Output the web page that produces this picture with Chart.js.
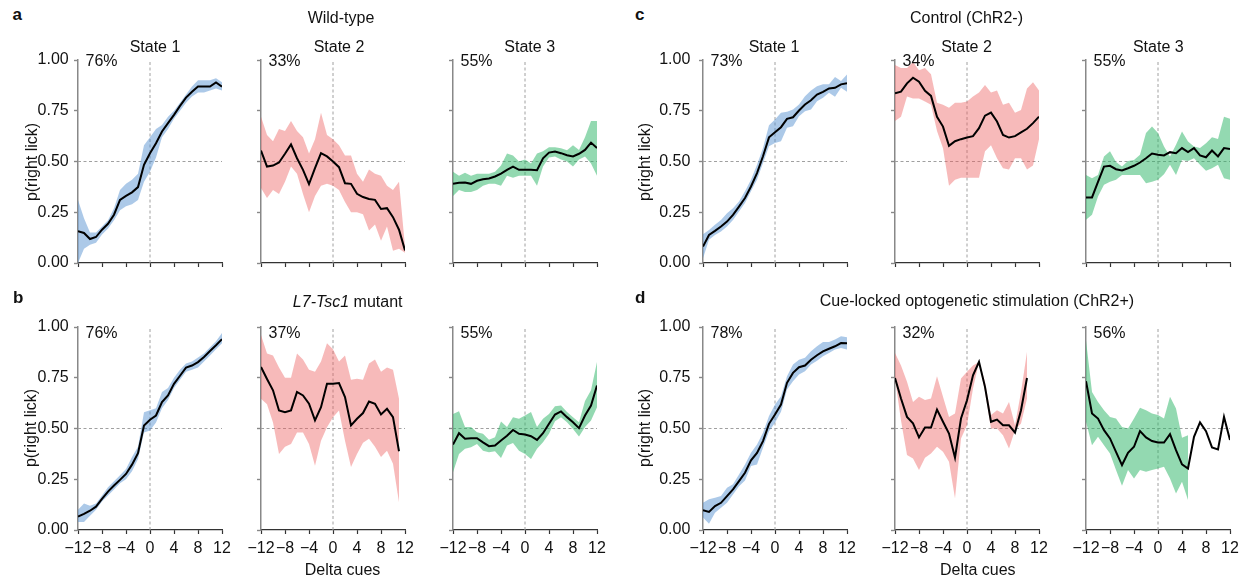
<!DOCTYPE html>
<html><head><meta charset="utf-8">
<script src="https://cdn.jsdelivr.net/npm/chart.js@4.4.0/dist/chart.umd.min.js"></script>
<style>
html,body{margin:0;padding:0;background:#fff;}
#fig{position:relative;width:1247px;height:581px;overflow:hidden;background:#fff;font-family:"Liberation Sans",Arial,Helvetica,sans-serif;color:#111;}
#fig canvas{position:absolute;}
.t{position:absolute;white-space:nowrap;font-size:16px;line-height:16px;}
</style></head><body><div id="fig"></div>
<script>
// ---------- data ----------
const deltaCues = [-12,-11,-10,-9,-8,-7,-6,-5,-4,-3,-2,-1,0,1,2,3,4,5,6,7,8,9,10,11,12];
const yTickValues = [0, 0.25, 0.5, 0.75, 1];
const xTickValues = [-12, -8, -4, 0, 4, 8, 12];

// a: Wild-type
const wtS1Mean  = [0.156,0.148,0.118,0.128,0.164,0.193,0.238,0.311,0.331,0.348,0.374,0.484,0.541,0.59,0.648,0.689,0.73,0.774,0.815,0.844,0.869,0.869,0.869,0.889,0.869];
const wtS1Upper = [0.31,0.22,0.15,0.15,0.18,0.21,0.27,0.36,0.39,0.41,0.44,0.58,0.62,0.66,0.68,0.72,0.75,0.79,0.83,0.87,0.90,0.90,0.90,0.91,0.89];
const wtS1Lower = [0.0,0.07,0.09,0.10,0.14,0.17,0.21,0.26,0.28,0.29,0.31,0.40,0.45,0.52,0.62,0.66,0.71,0.75,0.79,0.82,0.84,0.84,0.85,0.86,0.85];
const wtS2Mean  = [0.554,0.475,0.48,0.495,0.538,0.584,0.516,0.459,0.389,0.467,0.541,0.525,0.5,0.472,0.393,0.39,0.341,0.325,0.315,0.311,0.266,0.27,0.226,0.164,0.062];
const wtS2Upper = [0.72,0.63,0.60,0.66,0.65,0.70,0.65,0.62,0.54,0.61,0.74,0.63,0.61,0.58,0.53,0.53,0.44,0.40,0.46,0.44,0.43,0.38,0.36,0.40,0.08];
const wtS2Lower = [0.37,0.32,0.36,0.34,0.40,0.475,0.44,0.34,0.25,0.33,0.38,0.39,0.38,0.36,0.30,0.25,0.25,0.24,0.16,0.19,0.11,0.18,0.06,0.07,0.05];
const wtS3Mean  = [0.39,0.395,0.397,0.39,0.405,0.413,0.416,0.426,0.44,0.459,0.475,0.459,0.459,0.459,0.457,0.516,0.544,0.549,0.541,0.531,0.525,0.538,0.557,0.593,0.566];
const wtS3Upper = [0.45,0.43,0.445,0.43,0.44,0.44,0.44,0.45,0.48,0.54,0.53,0.50,0.51,0.49,0.54,0.55,0.57,0.57,0.565,0.555,0.58,0.557,0.62,0.70,0.70];
const wtS3Lower = [0.33,0.36,0.35,0.35,0.36,0.38,0.39,0.39,0.38,0.43,0.42,0.43,0.43,0.43,0.38,0.475,0.52,0.525,0.51,0.50,0.475,0.51,0.525,0.49,0.43];

// b: L7-Tsc1 mutant
const mutS1Mean  = [0.066,0.079,0.095,0.115,0.153,0.189,0.219,0.247,0.276,0.322,0.378,0.515,0.543,0.564,0.63,0.663,0.72,0.76,0.80,0.81,0.827,0.852,0.882,0.91,0.94];
const mutS1Upper = [0.10,0.13,0.12,0.13,0.17,0.21,0.24,0.27,0.30,0.36,0.41,0.58,0.59,0.60,0.68,0.70,0.75,0.79,0.82,0.83,0.85,0.87,0.90,0.93,0.97];
const mutS1Lower = [0.04,0.04,0.07,0.10,0.14,0.17,0.20,0.23,0.25,0.29,0.35,0.48,0.49,0.53,0.60,0.64,0.70,0.74,0.78,0.79,0.80,0.83,0.86,0.89,0.92];
const mutS2Mean  = [0.803,0.744,0.688,0.589,0.58,0.589,0.68,0.663,0.622,0.54,0.605,0.72,0.72,0.724,0.655,0.515,0.548,0.576,0.633,0.622,0.569,0.597,0.556,0.388,null];
const mutS2Upper = [0.96,0.87,0.86,0.80,0.75,0.75,0.87,0.84,0.79,0.78,0.83,0.92,0.89,0.83,0.86,0.74,0.745,0.74,0.82,0.84,0.78,0.80,0.79,0.646,null];
const mutS2Lower = [0.646,0.62,0.53,0.375,0.41,0.424,0.48,0.48,0.424,0.317,0.44,0.506,0.556,0.589,0.44,0.31,0.375,0.43,0.45,0.41,0.36,0.39,0.326,0.137,null];
const mutS3Mean  = [0.421,0.477,0.45,0.452,0.452,0.432,0.413,0.416,0.441,0.464,0.493,0.474,0.47,0.462,0.444,0.477,0.523,0.569,0.584,0.556,0.531,0.502,0.564,0.613,0.712];
const mutS3Upper = [0.572,0.585,0.507,0.507,0.482,0.474,0.444,0.457,0.535,0.507,0.556,0.548,0.564,0.581,0.507,0.548,0.572,0.609,0.613,0.581,0.556,0.531,0.635,0.688,0.827];
const mutS3Lower = [0.285,0.375,0.40,0.408,0.424,0.391,0.383,0.388,0.355,0.416,0.428,0.391,0.375,0.35,0.40,0.432,0.474,0.536,0.556,0.531,0.498,0.46,0.507,0.54,0.605];

// c: Control (ChR2-)
const ctlS1Mean  = [0.081,0.138,0.158,0.18,0.204,0.237,0.278,0.32,0.377,0.443,0.526,0.619,0.644,0.669,0.71,0.718,0.751,0.781,0.802,0.83,0.843,0.86,0.863,0.88,0.886];
const ctlS1Upper = [0.142,0.163,0.188,0.212,0.245,0.27,0.303,0.353,0.41,0.484,0.567,0.679,0.707,0.74,0.745,0.756,0.781,0.822,0.85,0.871,0.88,0.88,0.916,0.896,0.929];
const ctlS1Lower = [0.023,0.114,0.138,0.155,0.18,0.212,0.254,0.295,0.353,0.41,0.493,0.575,0.591,0.6,0.666,0.674,0.723,0.748,0.756,0.797,0.814,0.839,0.819,0.863,0.843];
const ctlS2Mean  = [0.836,0.844,0.885,0.913,0.893,0.848,0.823,0.72,0.672,0.577,0.60,0.61,0.618,0.625,0.664,0.726,0.741,0.697,0.631,0.618,0.625,0.643,0.661,0.689,0.721];
const ctlS2Upper = [0.975,0.96,0.96,0.99,0.95,0.96,0.93,0.79,0.78,0.765,0.79,0.79,0.795,0.82,0.84,0.877,0.84,0.85,0.78,0.79,0.74,0.754,0.86,0.89,0.85];
const ctlS2Lower = [0.70,0.72,0.82,0.81,0.81,0.795,0.78,0.65,0.565,0.38,0.41,0.42,0.42,0.42,0.42,0.55,0.58,0.516,0.467,0.46,0.516,0.516,0.46,0.48,0.61];
const ctlS3Mean  = [0.323,0.323,0.40,0.475,0.479,0.462,0.456,0.467,0.479,0.495,0.516,0.539,0.533,0.53,0.546,0.541,0.566,0.546,0.566,0.53,0.521,0.554,0.525,0.566,0.561];
const ctlS3Upper = [0.434,0.418,0.434,0.525,0.55,0.497,0.475,0.503,0.508,0.533,0.64,0.672,0.64,0.574,0.525,0.582,0.648,0.598,0.574,0.566,0.59,0.62,0.611,0.72,0.71];
const ctlS3Lower = [0.213,0.238,0.328,0.385,0.40,0.41,0.434,0.434,0.434,0.434,0.393,0.40,0.41,0.437,0.484,0.434,0.508,0.503,0.516,0.484,0.454,0.467,0.484,0.418,0.41];

// d: Cue-locked optogenetic stimulation (ChR2+)
const optS1Mean  = [0.097,0.089,0.118,0.134,0.167,0.2,0.241,0.282,0.343,0.38,0.438,0.523,0.569,0.618,0.725,0.774,0.802,0.81,0.839,0.861,0.88,0.893,0.905,0.921,0.92];
const optS1Upper = [0.134,0.151,0.159,0.167,0.208,0.225,0.274,0.323,0.38,0.421,0.479,0.561,0.618,0.659,0.757,0.815,0.839,0.848,0.88,0.905,0.926,0.926,0.938,0.954,0.949];
const optS1Lower = [0.061,0.031,0.085,0.11,0.134,0.175,0.216,0.244,0.315,0.323,0.405,0.487,0.528,0.582,0.692,0.733,0.766,0.782,0.815,0.834,0.856,0.872,0.889,0.897,0.889];
const optS2Mean  = [0.749,0.648,0.557,0.525,0.456,0.505,0.505,0.593,0.533,0.475,0.356,0.549,0.639,0.762,0.828,0.705,0.533,0.544,0.516,0.516,0.48,0.59,0.749,null,null];
const optS2Upper = [0.872,0.81,0.73,0.631,0.656,0.64,0.648,0.757,0.656,0.557,0.574,0.746,0.779,0.81,0.828,0.73,0.566,0.59,0.574,0.631,0.516,0.68,0.877,null,null];
const optS2Lower = [0.746,0.54,0.369,0.352,0.295,0.356,0.377,0.41,0.385,0.336,0.156,0.451,0.516,0.697,0.828,0.68,0.5,0.5,0.467,0.402,0.493,0.525,0.648,null,null];
const optS3Mean  = [0.733,0.574,0.549,0.492,0.451,0.385,0.32,0.38,0.41,0.487,0.456,0.438,0.431,0.431,0.472,0.393,0.323,0.303,0.459,0.53,0.487,0.407,0.397,0.557,0.443];
const optS3Upper = [0.934,0.68,0.631,0.59,0.557,0.549,0.508,0.5,0.549,0.602,0.59,0.574,0.566,0.549,0.656,0.598,0.454,0.467,null,null,null,null,null,null,null];
const optS3Lower = [0.533,0.418,0.459,0.418,0.377,0.295,0.218,0.295,0.254,0.295,0.287,0.295,0.303,0.311,0.254,0.18,0.238,0.148,null,null,null,null,null,null,null];

const stateShares = ['76%','33%','55%','73%','34%','55%','76%','37%','55%','78%','32%','56%'];

// ---------- layout & style ----------
const FONT = '"Liberation Sans", Arial, Helvetica, sans-serif';
Chart.defaults.font.family = FONT;
const fig = document.getElementById('fig');
const COL = {blue:'rgba(70,135,205,0.45)', red:'rgba(235,90,90,0.42)', green:'rgba(40,180,100,0.5)'};
const plotLefts = [78, 261, 453, 703, 895, 1086];
const plotTops = [60, 327];
const PW = 144, PH = 203;
const LW = 60, TOPP = 10, RW = 12, BH = 34;

const panels = [
  {row:0,col:0,m:wtS1Mean,u:wtS1Upper,l:wtS1Lower,c:COL.blue,yl:true,pad:5.3},
  {row:0,col:1,m:wtS2Mean,u:wtS2Upper,l:wtS2Lower,c:COL.red},
  {row:0,col:2,m:wtS3Mean,u:wtS3Upper,l:wtS3Lower,c:COL.green},
  {row:0,col:3,m:ctlS1Mean,u:ctlS1Upper,l:ctlS1Lower,c:COL.blue,yl:true,pad:8.7},
  {row:0,col:4,m:ctlS2Mean,u:ctlS2Upper,l:ctlS2Lower,c:COL.red},
  {row:0,col:5,m:ctlS3Mean,u:ctlS3Upper,l:ctlS3Lower,c:COL.green},
  {row:1,col:0,m:mutS1Mean,u:mutS1Upper,l:mutS1Lower,c:COL.blue,yl:true,pad:5.3},
  {row:1,col:1,m:mutS2Mean,u:mutS2Upper,l:mutS2Lower,c:COL.red},
  {row:1,col:2,m:mutS3Mean,u:mutS3Upper,l:mutS3Lower,c:COL.green},
  {row:1,col:3,m:optS1Mean,u:optS1Upper,l:optS1Lower,c:COL.blue,yl:true,pad:8.7},
  {row:1,col:4,m:optS2Mean,u:optS2Upper,l:optS2Lower,c:COL.red},
  {row:1,col:5,m:optS3Mean,u:optS3Upper,l:optS3Lower,c:COL.green}
];

const pts = arr => deltaCues.map((x, i) => ({x: x, y: arr[i]}));
const fmtX = v => (v < 0 ? '\u2212' + (-v) : String(v));

function makeChart(p) {
  const cv = document.createElement('canvas');
  cv.width = LW + PW + RW; cv.height = TOPP + PH + BH;
  cv.style.left = (plotLefts[p.col] - LW) + 'px';
  cv.style.top = (plotTops[p.row] - TOPP) + 'px';
  fig.appendChild(cv);
  const refStyle = {borderColor:'#a0a0a0', borderWidth:1, borderDash:[3,2.5], pointRadius:0, fill:false};
  new Chart(cv, {
    type: 'line',
    data: {datasets: [
      {data: pts(p.m), borderColor:'#000', borderWidth:2, pointRadius:0, fill:false, tension:0, spanGaps:false},
      {data: pts(p.u), borderWidth:0, borderColor:'rgba(0,0,0,0)', pointRadius:0, fill:'+1', backgroundColor:p.c, spanGaps:false},
      {data: pts(p.l), borderWidth:0, borderColor:'rgba(0,0,0,0)', pointRadius:0, fill:false, spanGaps:false},
      Object.assign({data: [{x:0,y:0},{x:0,y:1}]}, refStyle),
      Object.assign({data: [{x:xTickValues[0],y:0.5},{x:xTickValues[xTickValues.length-1],y:0.5}]}, refStyle)
    ]},
    options: {
      responsive:false, animation:false, devicePixelRatio:1,
      layout:{padding:{top:TOPP, right:RW, left:0, bottom:0}},
      plugins:{legend:{display:false}, tooltip:{enabled:false}},
      scales:{
        x:{type:'linear', min:-12, max:12,
          afterFit: s => { s.height = BH; s.paddingLeft = 0; s.paddingRight = 0; s.paddingTop = 0; s.paddingBottom = 0; },
          afterBuildTicks: s => { s.ticks = xTickValues.map(v => ({value:v})); },
          ticks:{display:p.row === 1, autoSkip:false, maxRotation:0, minRotation:0, padding:4.5, color:'#111',
                 font:{family:FONT, size:16}, callback: v => fmtX(v)},
          grid:{drawOnChartArea:false, drawTicks:true, tickLength:4, tickColor:'#333', tickWidth:1.2},
          border:{display:true, color:'#333', width:1.2}},
        y:{min:0, max:1,
          afterFit: s => { s.width = LW; s.paddingTop = 0; s.paddingBottom = 0; s.paddingLeft = 0; s.paddingRight = 0; },
          afterBuildTicks: s => { s.ticks = yTickValues.map(v => ({value:v})); },
          ticks:{display:!!p.yl, padding:p.pad || 5, color:'#111', font:{family:FONT, size:16},
                 callback: v => Number(v).toFixed(2)},
          grid:{drawOnChartArea:false, drawTicks:true, tickLength:4, tickColor:'#888', tickWidth:1.4},
          border:{display:true, color:'#888', width:1.5}}
      }
    }
  });
}
panels.forEach(makeChart);

// ---------- text ----------
function addText(html, x, baseline, align, size, bold) {
  const d = document.createElement('div');
  d.className = 't';
  d.innerHTML = html;
  const fs = size || 16;
  d.style.fontSize = fs + 'px';
  d.style.lineHeight = fs + 'px';
  if (bold) d.style.fontWeight = 'bold';
  d.style.top = (baseline - 0.8465 * fs) + 'px';
  d.style.left = x + 'px';
  if (align === 'center') d.style.transform = 'translateX(-50%)';
  else if (align === 'right') d.style.transform = 'translateX(-100%)';
  fig.appendChild(d);
  return d;
}
function addVText(str, cx, cy) {
  const d = document.createElement('div');
  d.className = 't';
  d.textContent = str;
  d.style.left = cx + 'px';
  d.style.top = cy + 'px';
  d.style.transform = 'translate(-50%,-50%) rotate(-90deg)';
  fig.appendChild(d);
}

addText('a', 12.5, 20.7, 'left', 17, true);
addText('c', 635, 20.7, 'left', 17, true);
addText('b', 13, 303.3, 'left', 17, true);
addText('d', 635, 303.3, 'left', 17, true);

addText('Wild-type', 341, 23.5, 'center');
addText('Control (ChR2-)', 966.5, 23.5, 'center');
addText('<i>L7-Tsc1</i> mutant', 347.7, 307.5, 'center');
addText('Cue-locked optogenetic stimulation (ChR2+)', 977, 306.5, 'center');

const stateTitleX = [155, 339, 529.7, 774, 966.5, 1158.3];
['State 1','State 2','State 3','State 1','State 2','State 3'].forEach((s, i) => addText(s, stateTitleX[i], 52.7, 'center'));

panels.forEach((p, i) => {
  addText(stateShares[i], plotLefts[p.col] + 7.5, p.row === 0 ? 66.5 : 338.3, 'left');
});

addVText('p(right lick)', 31.5, 161.5);
addVText('p(right lick)', 30.5, 428);
addVText('p(right lick)', 645, 161.5);
addVText('p(right lick)', 645, 428);

addText('Delta cues', 342.5, 576, 'center');
addText('Delta cues', 977.8, 576, 'center');
</script>
</body></html>
